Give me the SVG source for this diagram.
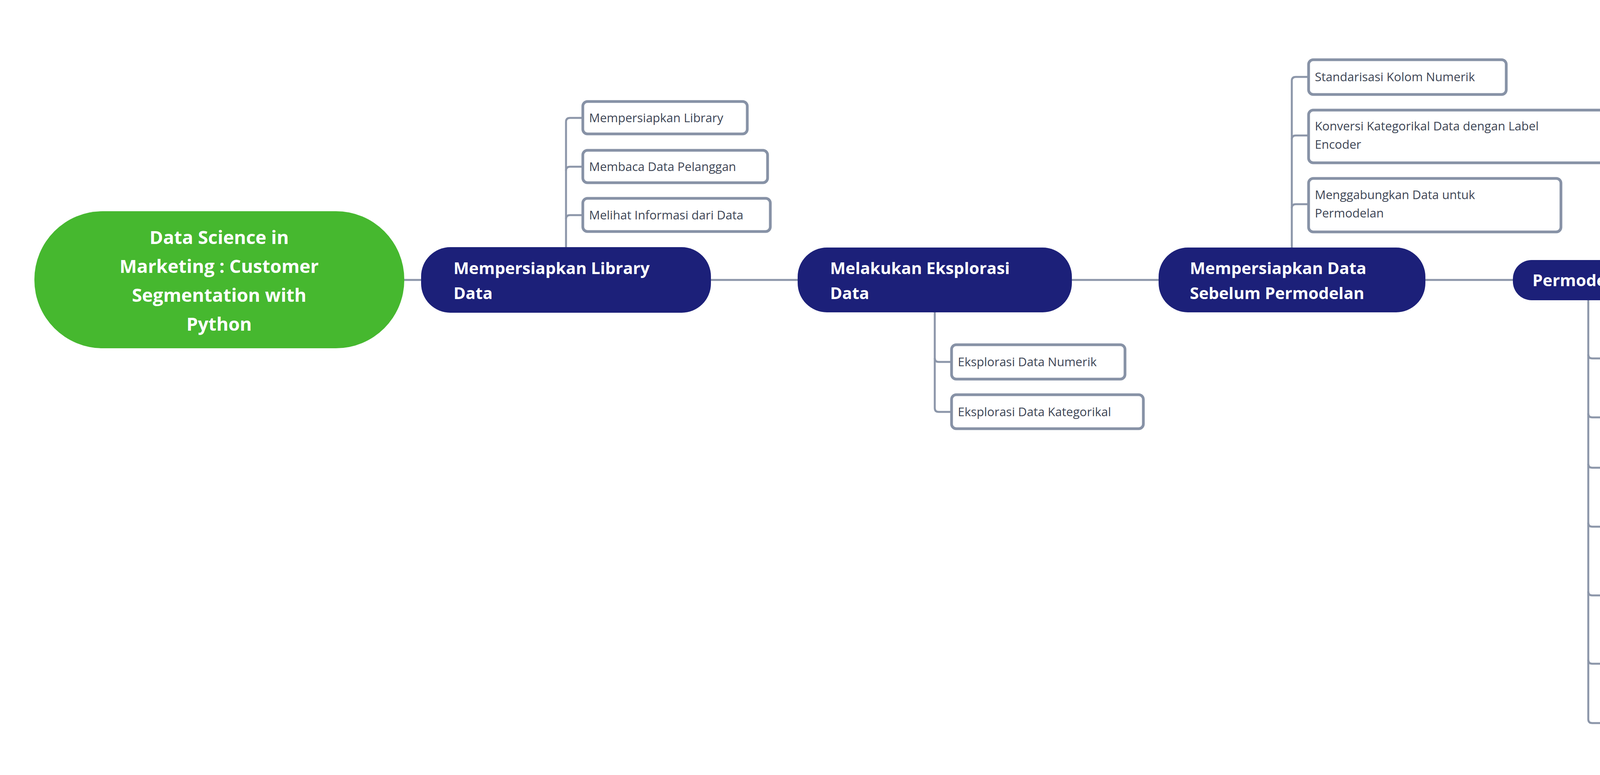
<svg xmlns="http://www.w3.org/2000/svg" width="5735" height="1985" viewBox="0 0 5735 1985">
<style>
.c{fill:none;stroke:#8C96A9;stroke-width:5}
.b{fill:#fff;stroke:#8792A6;stroke-width:7}
.t{font-family:"Open Sans","Liberation Sans",sans-serif;font-size:31px;fill:#3D4555}
.m{fill:#1C2079}
.mt{font-family:"Open Sans","Liberation Sans",sans-serif;font-size:42px;font-weight:bold;fill:#fff}
</style>
<rect width="5735" height="1985" fill="#fff"/>
<g id="connectors">
<path class="c" d="M1035 717H5363"/>
<path class="c" d="M1449 633V312"/>
<path class="c" d="M1449 312Q1449 302 1459 302H1492M1449 437Q1449 427 1459 427H1492M1449 561Q1449 551 1459 551H1492"/>
<path class="c" d="M2393 800V1045"/>
<path class="c" d="M2393 917Q2393 927 2403 927H2436M2393 1045Q2393 1055 2403 1055H2436"/>
<path class="c" d="M3307 634V207"/>
<path class="c" d="M3307 207Q3307 197 3317 197H3350M3307 357Q3307 347 3317 347H3350M3307 533Q3307 523 3317 523H3350"/>
<path class="c" d="M4066 769V1842"/>
<path class="c" d="M4066 908Q4066 918 4076 918H4109M4066 1059Q4066 1069 4076 1069H4109M4066 1188Q4066 1198 4076 1198H4109M4066 1339Q4066 1349 4076 1349H4109M4066 1515Q4066 1525 4076 1525H4109M4066 1690Q4066 1700 4076 1700H4109M4066 1842Q4066 1852 4076 1852H4109"/>
<path class="c" d="M4813 666V143"/>
<path class="c" d="M4813 143Q4813 133 4823 133H4856M4813 271Q4813 261 4823 261H4856M4813 424Q4813 414 4823 414H4856M4813 575Q4813 565 4823 565H4856"/>
</g>
<g id="root"><rect x="88" y="541" width="947" height="351" rx="175" fill="#46B82F"/>
<text font-family="'Open Sans','Liberation Sans',sans-serif" font-size="47" font-weight="bold" fill="#fff" text-anchor="middle"><tspan x="561" y="625">Data Science in</tspan><tspan x="561" y="699">Marketing : Customer</tspan><tspan x="561" y="773">Segmentation with</tspan><tspan x="561" y="847">Python</tspan></text></g>
<g id="n1"><rect class="m" x="1078" y="633" width="742" height="168" rx="75"/><text class="mt"><tspan x="1161" y="702">Mempersiapkan Library</tspan><tspan x="1161" y="766">Data</tspan></text></g>
<g id="n2"><rect class="m" x="2042" y="634" width="702" height="166" rx="75"/><text class="mt"><tspan x="2125" y="702">Melakukan Eksplorasi</tspan><tspan x="2125" y="766">Data</tspan></text></g>
<g id="n3"><rect class="m" x="2966" y="634" width="683" height="166" rx="75"/><text class="mt"><tspan x="3046" y="702">Mempersiapkan Data</tspan><tspan x="3046" y="766">Sebelum Permodelan</tspan></text></g>
<g id="n4"><rect class="m" x="3873" y="666" width="386" height="103" rx="48"/><text class="mt" x="3923" y="733">Permodelan</text></g>
<g id="n5"><rect class="m" x="4482" y="666" width="659" height="103" rx="48"/><text class="mt" x="4532" y="733">Mengoperasikan Model</text></g>
<g id="end"><rect x="5363" y="649" width="284" height="135" rx="67" fill="#FF9F00"/><text font-family="'Open Sans','Liberation Sans',sans-serif" font-size="64" font-weight="bold" fill="#fff" text-anchor="middle" x="5505" y="740">END</text></g>
<g id="a1"><rect class="b" x="1492" y="260" width="421" height="83" rx="12"/><text class="t" x="1508" y="313">Mempersiapkan Library</text></g>
<g id="a2"><rect class="b" x="1492" y="385" width="473" height="83" rx="12"/><text class="t" x="1508" y="438">Membaca Data Pelanggan</text></g>
<g id="a3"><rect class="b" x="1492" y="508" width="480" height="85" rx="12"/><text class="t" x="1508" y="562">Melihat Informasi dari Data</text></g>
<g id="b1"><rect class="b" x="2436" y="883" width="444" height="88" rx="12"/><text class="t" x="2452" y="938">Eksplorasi Data Numerik</text></g>
<g id="b2"><rect class="b" x="2436" y="1011" width="491" height="87" rx="12"/><text class="t" x="2452" y="1066">Eksplorasi Data Kategorikal</text></g>
<g id="c1"><rect class="b" x="3350" y="153" width="506" height="89" rx="12"/><text class="t" x="3366" y="208">Standarisasi Kolom Numerik</text></g>
<g id="c2"><rect class="b" x="3350" y="282" width="761" height="135" rx="12"/><text class="t"><tspan x="3366" y="334">Konversi Kategorikal Data dengan Label</tspan><tspan x="3366" y="381">Encoder</tspan></text></g>
<g id="c3"><rect class="b" x="3350" y="457" width="646" height="137" rx="12"/><text class="t"><tspan x="3366" y="510">Menggabungkan Data untuk</tspan><tspan x="3366" y="557">Permodelan</tspan></text></g>
<g id="d1"><rect class="b" x="4109" y="851" width="588" height="135" rx="12"/><text class="t"><tspan x="4125" y="905">Mencari Jumlah Cluster yang</tspan><tspan x="4125" y="952">Optimal</tspan></text></g>
<g id="d2"><rect class="b" x="4109" y="1028" width="313" height="86" rx="12"/><text class="t" x="4125" y="1080">Membuat Model</text></g>
<g id="d3"><rect class="b" x="4109" y="1156" width="391" height="87" rx="12"/><text class="t" x="4125" y="1209">Menggunakan Model</text></g>
<g id="d4"><rect class="b" x="4109" y="1284" width="483" height="135" rx="12"/><text class="t"><tspan x="4125" y="1336">Menampilkan Cluster Tiap</tspan><tspan x="4125" y="1383">Pelanggan</tspan></text></g>
<g id="d5"><rect class="b" x="4109" y="1459" width="595" height="136" rx="12"/><text class="t"><tspan x="4125" y="1512">Visualisasi Hasil Clustering – Box</tspan><tspan x="4125" y="1559">Plot</tspan></text></g>
<g id="d6"><rect class="b" x="4109" y="1635" width="633" height="137" rx="12"/><text class="t"><tspan x="4125" y="1687">Visualisasi Hasil Clustering – Count</tspan><tspan x="4125" y="1734">Plot</tspan></text></g>
<g id="d7"><rect class="b" x="4109" y="1812" width="370" height="82" rx="12"/><text class="t" x="4125" y="1863">Menamakan Cluster</text></g>
<g id="e1"><rect class="b" x="4856" y="89" width="474" height="88" rx="12"/><text class="t" x="4872" y="144">Mempersiapkan Data Baru</text></g>
<g id="e2"><rect class="b" x="4856" y="217" width="612" height="88" rx="12"/><text class="t" x="4872" y="272">Membuat Fungsi Data Pemrosesan</text></g>
<g id="e3"><rect class="b" x="4856" y="346" width="612" height="136" rx="12"/><text class="t"><tspan x="4872" y="398">Memanggil Model dan Melakukan</tspan><tspan x="4872" y="445">Prediksi</tspan></text></g>
<g id="e4"><rect class="b" x="4856" y="521" width="386" height="88" rx="12"/><text class="t" x="4872" y="576">Menamakan Segmen</text></g>
</svg>
